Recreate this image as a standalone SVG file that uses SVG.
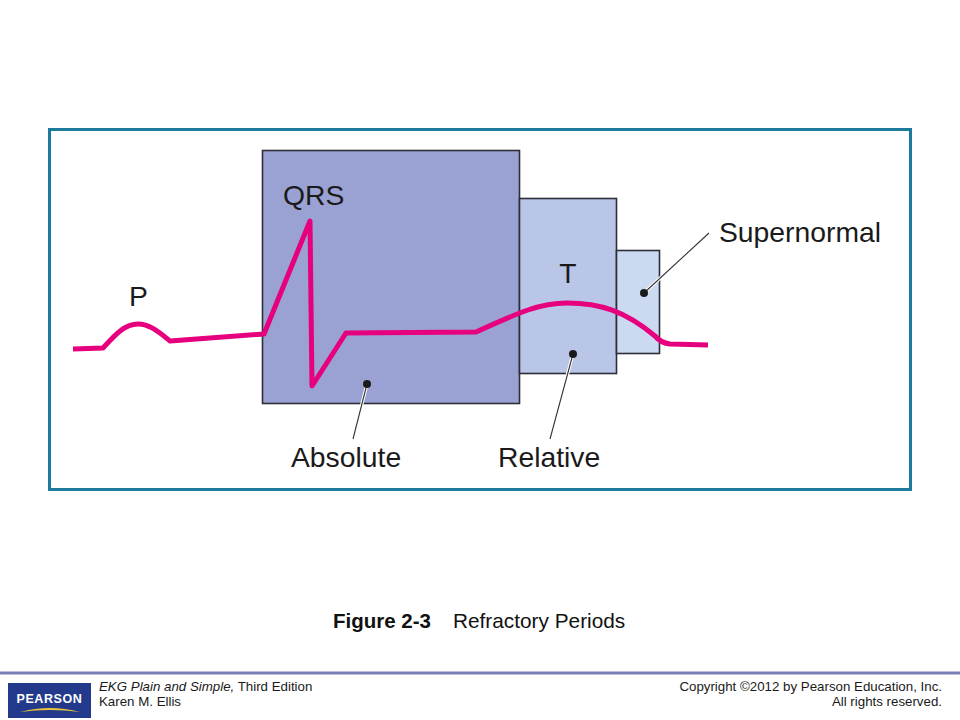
<svg xmlns="http://www.w3.org/2000/svg" width="960" height="720" viewBox="0 0 960 720">
<style>
.box{stroke:#2e2e38;stroke-width:1.6}
.lbl{font-family:"Liberation Sans",Arial,sans-serif;font-size:28.3px;fill:#1a1a1a}
.halo{stroke:#ffffff;stroke-width:3.2;fill:none;stroke-linecap:round}
.lead{stroke:#333333;stroke-width:1.1;fill:none}
.dot{fill:#1a1a1a}
.ekg{fill:none;stroke:#e6007e;stroke-width:5;stroke-linejoin:round;stroke-linecap:butt}
.ft{font-family:"Liberation Sans",Arial,sans-serif;font-size:13.3px;fill:#1a1a1a}
</style>
<rect x="0" y="0" width="960" height="720" fill="#ffffff"/>
<rect id="frame" x="49.5" y="129.5" width="861" height="360" fill="#ffffff" stroke="#1b7a9e" stroke-width="3"/>

<g id="absolute">
<rect class="box" x="262.5" y="150.5" width="257" height="253" fill="#9aa2d3"/>
<text class="lbl" x="283" y="205">QRS</text>
</g>
<g id="relative">
<rect class="box" x="519.5" y="198.5" width="97" height="175" fill="#b9c6e8"/>
<text class="lbl" x="568" y="283" text-anchor="middle">T</text>
</g>
<g id="supernormal">
<rect class="box" x="616.5" y="250.5" width="43" height="103" fill="#cbd9f1"/>
</g>

<g id="p-wave-label">
<text class="lbl" x="129" y="306">P</text>
</g>

<g id="ekg-trace">
<path class="ekg" d="M73,349 L103,348 C114,336 124,324 138,324 C150,324 160,333 170,341 L264,334 L310,221 L312,386 L346,333 L476,332 C520,312 540,303 567,303 C600,303 625,311 655,336 Q661,343 670,344 L708,345"/>
</g>

<g id="connectors">
<line class="halo" x1="367" y1="384" x2="353" y2="439"/>
<line class="lead" x1="367" y1="384" x2="353" y2="439"/>
<line class="halo" x1="573" y1="354" x2="550" y2="439"/>
<line class="lead" x1="573" y1="354" x2="550" y2="439"/>
<line class="halo" x1="644" y1="293" x2="709" y2="233"/>
<line class="lead" x1="644" y1="293" x2="709" y2="233"/>
<circle class="dot" cx="367" cy="384" r="4"/>
<circle class="dot" cx="573" cy="354" r="4"/>
<circle class="dot" cx="644" cy="293" r="4"/>
</g>

<g id="labels">
<text class="lbl" x="291" y="467">Absolute</text>
<text class="lbl" x="498" y="467">Relative</text>
<text class="lbl" x="719" y="242">Supernormal</text>
</g>

<g id="caption">
<text x="333" y="628" font-family="'Liberation Sans',Arial,sans-serif" font-size="20.5" font-weight="bold" fill="#111">Figure 2-3</text>
<text x="453" y="628" font-family="'Liberation Sans',Arial,sans-serif" font-size="20.8" fill="#111">Refractory Periods</text>
</g>

<g id="footer">
<rect x="0" y="671.5" width="960" height="3" fill="#7b7fb6"/>
<rect x="8" y="683" width="83" height="35" fill="#233a8c"/>
<text x="49.5" y="703" text-anchor="middle" font-family="'Liberation Sans',Arial,sans-serif" font-size="12.5" font-weight="bold" fill="#ffffff" letter-spacing="0.6">PEARSON</text>
<path d="M20,712 Q50,704 80,712 Q50,708 20,712 Z" fill="#e8c33a"/>
<text class="ft" x="99" y="691"><tspan font-style="italic">EKG Plain and Simple,</tspan> Third Edition</text>
<text class="ft" x="99" y="706">Karen M. Ellis</text>
<text class="ft" x="942" y="691" text-anchor="end">Copyright ©2012 by Pearson Education, Inc.</text>
<text class="ft" x="942" y="706" text-anchor="end">All rights reserved.</text>
</g>
</svg>
